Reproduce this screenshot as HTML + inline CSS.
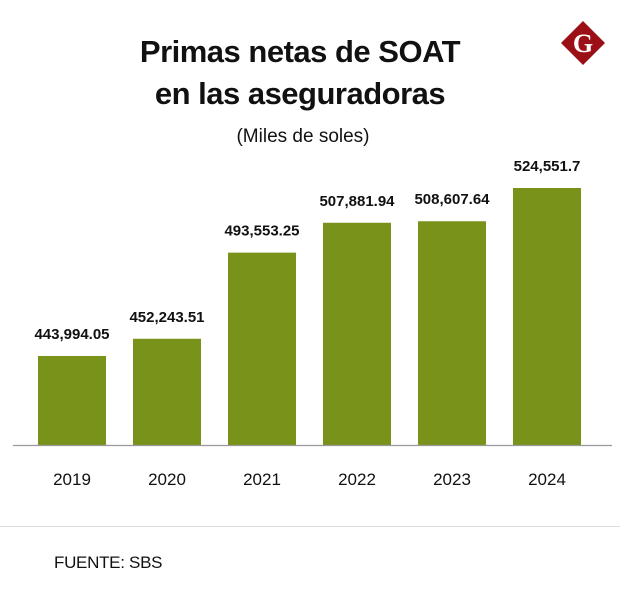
<!DOCTYPE html>
<html><head><meta charset="utf-8"><style>
html,body{margin:0;padding:0;background:#fff;}
body{width:620px;height:604px;overflow:hidden;font-family:"Liberation Sans",sans-serif;}
</style></head><body>
<svg width="620" height="604" viewBox="0 0 620 604">
<text x="300" y="62" text-anchor="middle" font-size="31" font-weight="bold" fill="#111" letter-spacing="-0.5">Primas netas de SOAT</text>
<text x="300" y="104" text-anchor="middle" font-size="31" font-weight="bold" fill="#111" letter-spacing="-0.5">en las aseguradoras</text>
<text x="303" y="142" text-anchor="middle" font-size="19" fill="#111">(Miles de soles)</text>
<g>
<polygon points="583,21 605,43 583,65 561,43" fill="#9b0f17"/>
<text x="583" y="52" text-anchor="middle" font-family="Liberation Serif,serif" font-size="26" font-weight="bold" fill="#fff">G</text>
</g>
<g id="bars"></g>
<line x1="13" y1="445.5" x2="612" y2="445.5" stroke="#999" stroke-width="1.2"/>
<line x1="0" y1="526.5" x2="620" y2="526.5" stroke="#ddd" stroke-width="1"/>
<text x="54" y="568" font-size="17" fill="#111" letter-spacing="-0.3">FUENTE: SBS</text>
</svg>
<script>
const categories = ["2019","2020","2021","2022","2023","2024"];
const values = [443994.05, 452243.51, 493553.25, 507881.94, 508607.64, 524551.7];
const valueLabels = ["443,994.05","452,243.51","493,553.25","507,881.94","508,607.64","524,551.7"];
const yMin = 401300, yMax = 524551.7;
const baseY = 445, topY = 188;
function y(v){ return baseY - (v - yMin) / (yMax - yMin) * (baseY - topY); }
function x(i){ return 38 + i * 95; }
const bw = 68;
const g = document.getElementById('bars');
const ns = "http://www.w3.org/2000/svg";
categories.forEach((c,i)=>{
  const r = document.createElementNS(ns,'rect');
  r.setAttribute('x', x(i)); r.setAttribute('y', y(values[i]));
  r.setAttribute('width', bw); r.setAttribute('height', baseY - y(values[i]));
  r.setAttribute('fill', '#79921a');
  
  
  g.appendChild(r);
  const t = document.createElementNS(ns,'text');
  t.setAttribute('x', x(i) + bw/2); t.setAttribute('y', y(values[i]) - 17);
  t.setAttribute('text-anchor','middle'); t.setAttribute('font-size','15'); t.setAttribute('font-weight','bold'); t.setAttribute('fill','#111');
  t.textContent = valueLabels[i];
  
  
  g.appendChild(t);
  const l = document.createElementNS(ns,'text');
  l.setAttribute('x', x(i) + bw/2); l.setAttribute('y', 485);
  l.setAttribute('text-anchor','middle'); l.setAttribute('font-size','17'); l.setAttribute('fill','#111');
  l.textContent = c;
  
  
  g.appendChild(l);
});
</script>
</body></html>
